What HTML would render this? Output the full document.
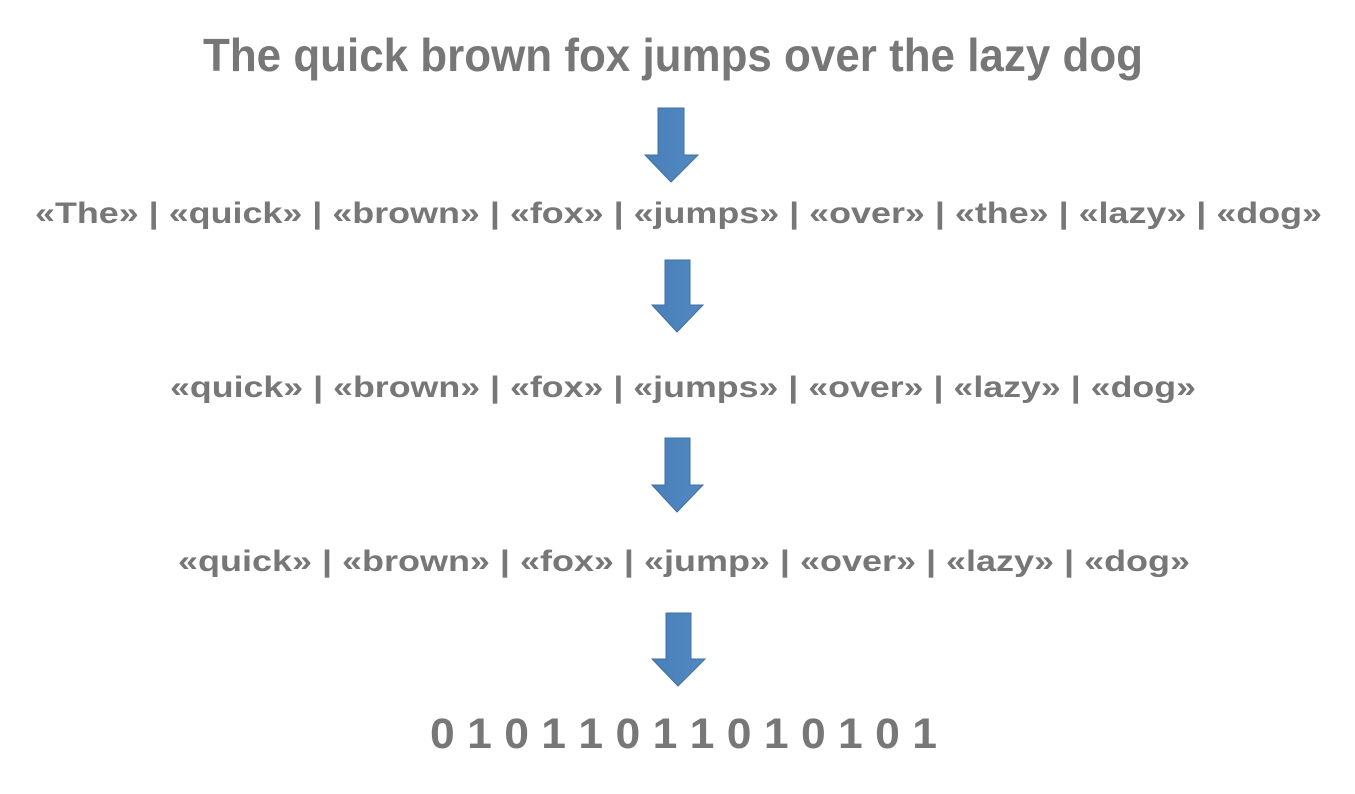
<!DOCTYPE html>
<html><head><meta charset="utf-8"><style>
html,body{margin:0;padding:0;background:#fff;width:1355px;height:794px;overflow:hidden}
</style></head><body>
<svg width="1355" height="794" xmlns="http://www.w3.org/2000/svg">
<defs>
<linearGradient id="g" x1="0" x2="1" y1="0" y2="0"><stop offset="0" stop-color="#4a7fba"/><stop offset="1" stop-color="#5289c2"/></linearGradient>
</defs>
<g font-family="'Liberation Sans', sans-serif" font-weight="bold" fill="#777777">
<text x="203" y="71" font-size="46" textLength="940" lengthAdjust="spacingAndGlyphs">The quick brown fox jumps over the lazy dog</text>
<text x="35" y="223" font-size="30" textLength="1287" lengthAdjust="spacingAndGlyphs">«The» | «quick» | «brown» | «fox» | «jumps» | «over» | «the» | «lazy» | «dog»</text>
<text x="170" y="397" font-size="30" textLength="1026" lengthAdjust="spacingAndGlyphs">«quick» | «brown» | «fox» | «jumps» | «over» | «lazy» | «dog»</text>
<text x="178" y="571" font-size="30" textLength="1012" lengthAdjust="spacingAndGlyphs">«quick» | «brown» | «fox» | «jump» | «over» | «lazy» | «dog»</text>
<text x="430" y="748" font-size="43" textLength="507" lengthAdjust="spacingAndGlyphs">0 1 0 1 1 0 1 1 0 1 0 1 0 1</text>
</g>
<g fill="url(#g)" stroke="#41709f" stroke-width="1">
<polygon points="658,108 684,108 684,155 698,155 671,182 645,155 658,155"/>
<polygon points="665,260 690,260 690,305 703,305 677,332 652,305 665,305"/>
<polygon points="665,438 690,438 690,485 703,485 677,512 652,485 665,485"/>
<polygon points="666,613 691,613 691,659 705,659 678,686 652,659 666,659"/>
</g>
</svg>
</body></html>
